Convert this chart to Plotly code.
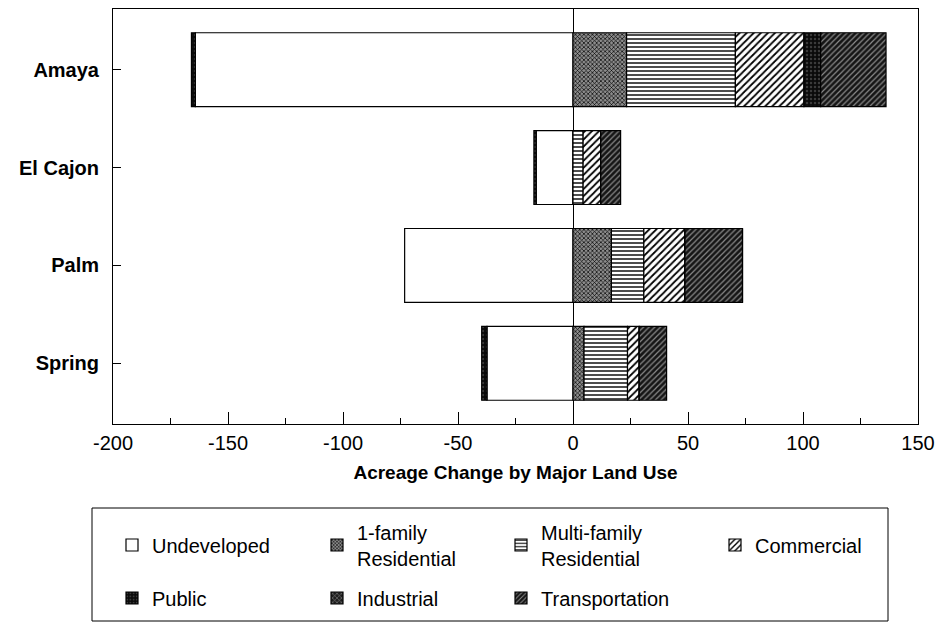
import plotly.graph_objects as go

categories = ["Amaya", "El Cajon", "Palm", "Spring"]
undeveloped = [-164.2, -16.0, -73.2, -37.4]
public_loss = [-1.7, -1.0, 0.0, -2.3]
one_family = [23.3, 0.0, 16.7, 4.8]
multi_family = [47.3, 4.4, 14.1, 18.9]
commercial = [29.8, 7.7, 17.9, 5.1]
public_gain = [7.3, 0.0, 0.0, 0.0]
industrial = [0.0, 0.0, 0.0, 0.0]
transportation = [28.4, 8.6, 25.0, 11.9]

x_ticks = [-200, -150, -100, -50, 0, 50, 100, 150]
x_tick_labels = ["-200", "-150", "-100", "-50", "0", "50", "100", "150"]

FONT = "Arial, Liberation Sans, sans-serif"
BAR_W = 0.755

# page body has an 8px margin; plot area target in page px: x 113..918, y 9..424
PL, PR, PT, PB = 113, 918, 9, 424


def px_x(p):
    return (p - PL) / (PR - PL)


def px_y(p):
    return (PB - p) / (PB - PT)


def bar(name, values, shape, fg, bg, legend, size=5, solidity=0.35, showlegend=True, group=None):
    marker = dict(color=bg, line=dict(color="black", width=1.2))
    if shape:
        marker["pattern"] = dict(shape=shape, fgcolor=fg, bgcolor=bg, size=size,
                                 solidity=solidity, fillmode="replace")
    return go.Bar(
        name=name, y=categories, x=values, orientation="h", width=BAR_W,
        marker=marker, showlegend=showlegend, legendgroup=group or name, legend=legend,
    )


fig = go.Figure()
fig.add_trace(bar("Undeveloped", undeveloped, "", "black", "white", "legend"))
fig.add_trace(bar("1-family<br>Residential", one_family, "x", "black", "#8c8c8c", "legend2",
                  size=3, solidity=0.4))
fig.add_trace(bar("Multi-family<br>Residential", multi_family, "-", "black", "white", "legend3",
                  size=4, solidity=0.35))
fig.add_trace(bar("Commercial", commercial, "/", "black", "white", "legend4", size=5, solidity=0.35))
fig.add_trace(bar("Public", public_gain, ".", "#3a3a3a", "#0a0a0a", "legend5",
                  size=4, solidity=0.3, group="Public"))
fig.add_trace(bar("Industrial", industrial, "x", "#8a8a8a", "#1e1e1e", "legend6", size=4, solidity=0.3))
fig.add_trace(bar("Transportation", transportation, "/", "#8a8a8a", "#151515", "legend7",
                  size=4, solidity=0.3))
fig.add_trace(bar("Public", public_loss, ".", "#3a3a3a", "#0a0a0a", "legend5", size=4, solidity=0.3,
                  showlegend=False, group="Public"))


def leg(left_px, center_px):
    return dict(x=px_x(left_px), xanchor="left", y=px_y(center_px), yanchor="middle",
                bgcolor="rgba(0,0,0,0)", borderwidth=0, font=dict(size=20, family=FONT))


fig.update_layout(
    width=937, height=624,
    margin=dict(l=PL - 8, r=945 - PR, t=PT - 8, b=632 - PB),
    paper_bgcolor="white", plot_bgcolor="white",
    barmode="relative",
    font=dict(family=FONT, color="black", size=20),
    xaxis=dict(
        range=[-200, 150], tickvals=x_ticks, ticktext=x_tick_labels, ticks="inside",
        ticklen=12, tickwidth=1, tickcolor="black",
        minor=dict(dtick=25, ticks="inside", ticklen=6, tickcolor="black"),
        showline=True, linecolor="black", linewidth=1, mirror=True,
        zeroline=True, zerolinecolor="black", zerolinewidth=1, showgrid=False,
        tickfont=dict(size=20, family=FONT), ticklabelstandoff=1,
        title=dict(text="Acreage Change by Major Land Use", standoff=12,
                   font=dict(size=19, family=FONT, weight="bold")),
    ),
    yaxis=dict(
        type="category", categoryorder="array", categoryarray=categories,
        range=[3.62, -0.62], ticks="inside", ticklen=8, tickcolor="black",
        showline=True, linecolor="black", linewidth=1, mirror=True, showgrid=False,
        tickfont=dict(size=20, family=FONT, weight="bold"), ticklabelstandoff=9,
    ),
    legend=leg(112, 545),
    legend2=leg(317, 545),
    legend3=leg(501, 545),
    legend4=leg(715, 545),
    legend5=leg(112, 598),
    legend6=leg(317, 598),
    legend7=leg(501, 598),
    shapes=[dict(type="rect", xref="paper", yref="paper",
                 x0=px_x(92), x1=px_x(888), y0=px_y(621), y1=px_y(508),
                 line=dict(color="black", width=1), layer="below")],
)

fig.write_html("out.html")
